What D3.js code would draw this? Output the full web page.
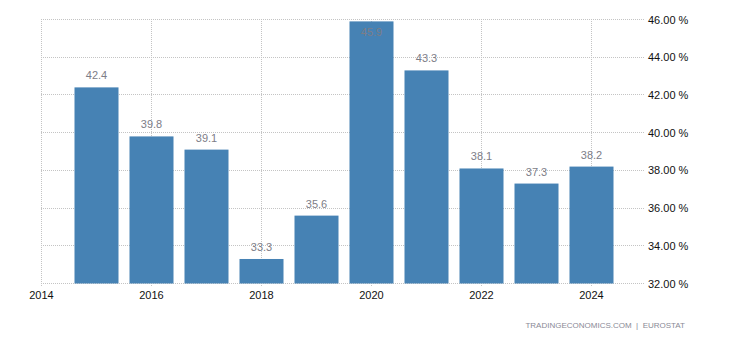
<!DOCTYPE html>
<html>
<head>
<meta charset="utf-8">
<script src="https://cdn.jsdelivr.net/npm/d3@7"></script>
<style>
  html, body { margin: 0; padding: 0; background: #fff; }
  svg { display: block; font-family: "Liberation Sans", Arial, sans-serif; }
</style>
</head>
<body>
<svg id="chart" width="730" height="340"></svg>
<script>
// Annual values, percent
const years = [2015, 2016, 2017, 2018, 2019, 2020, 2021, 2022, 2023, 2024];
const values = [42.4, 39.8, 39.1, 33.3, 35.6, 45.9, 43.3, 38.1, 37.3, 38.2];
const xTicks = [2014, 2016, 2018, 2020, 2022, 2024];
const yTicks = [32, 34, 36, 38, 40, 42, 44, 46];
const sourceText = "TRADINGECONOMICS.COM  |  EUROSTAT";

const svg = d3.select("#chart");

const x = d3.scaleLinear().domain([2014, 2025]).range([41.5, 646.5]);
const y = d3.scaleLinear().domain([32, 46]).range([283.5, 19.5]);
const barW = (x(1) - x(0)) * 0.8;

// snap a coordinate to the pixel centre so dotted lines stay crisp
const crisp = v => Math.floor(v) + 0.5;

const grid = svg.append("g").attr("class", "grid");

// horizontal grid lines
grid.selectAll("line.h").data(yTicks).join("line")
  .attr("class", "h")
  .attr("x1", Math.floor(x(2014))).attr("x2", 645)
  .attr("y1", d => crisp(y(d))).attr("y2", d => crisp(y(d)))
  .attr("stroke", "#c4c4c4").attr("stroke-width", 1)
  .attr("stroke-dasharray", "1,1");

// vertical grid lines with small ticks below the baseline
grid.selectAll("line.v").data(xTicks).join("line")
  .attr("class", "v")
  .attr("x1", d => crisp(x(d))).attr("x2", d => crisp(x(d)))
  .attr("y1", Math.floor(y(46))).attr("y2", Math.floor(y(32)) + 4)
  .attr("stroke", "#c4c4c4").attr("stroke-width", 1)
  .attr("stroke-dasharray", "1,1");

// bars
svg.append("g").selectAll("rect").data(years).join("rect")
  .attr("x", d => x(d) - barW / 2)
  .attr("width", barW)
  .attr("y", (d, i) => y(values[i]))
  .attr("height", (d, i) => y(32) - y(values[i]))
  .attr("fill", "#4682b4");

// value labels; placed inside the bar when there is no room above it
svg.append("g").selectAll("text").data(years).join("text")
  .attr("x", d => x(d))
  .attr("y", (d, i) => {
    const top = y(values[i]);
    return top - 8 < 30 ? top + 15 : top - 8;
  })
  .attr("text-anchor", "middle")
  .attr("font-size", 11)
  .attr("fill", "#7d7d87")
  .text((d, i) => values[i].toFixed(1));

// right axis labels
svg.append("g").selectAll("text").data(yTicks).join("text")
  .attr("x", 648)
  .attr("y", d => y(d) + 4)
  .attr("font-size", 11)
  .attr("fill", "#111")
  .text(d => d3.format(".2f")(d) + " %");

// bottom axis labels
svg.append("g").selectAll("text").data(xTicks).join("text")
  .attr("x", d => x(d))
  .attr("y", 298.5)
  .attr("text-anchor", "middle")
  .attr("font-size", 11)
  .attr("fill", "#111")
  .text(d => d);

// source line
svg.append("text")
  .attr("x", 685).attr("y", 328)
  .attr("text-anchor", "end")
  .attr("font-size", 8)
  .attr("fill", "#8a8a96")
  .attr("xml:space", "preserve")
  .style("white-space", "pre")
  .text(sourceText);
</script>
</body>
</html>
